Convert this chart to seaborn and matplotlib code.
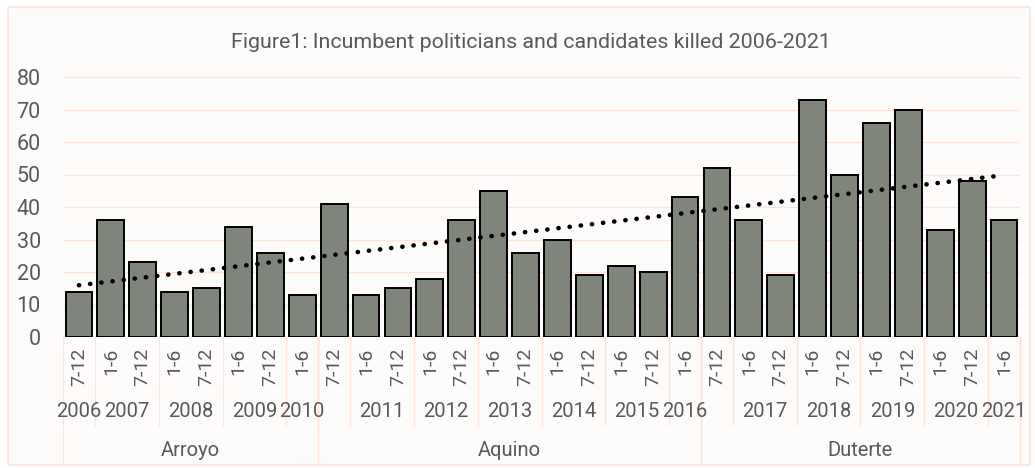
import numpy as np
import pandas as pd
import matplotlib
matplotlib.use("Agg")
import matplotlib.pyplot as plt
import matplotlib.transforms as mtransforms
from matplotlib.patches import Rectangle
import seaborn as sns

# ---- data ----
halves = ["7-12", "1-6", "7-12", "1-6", "7-12", "1-6", "7-12", "1-6",
          "7-12", "1-6", "7-12", "1-6", "7-12", "1-6", "7-12", "1-6", "7-12", "1-6", "7-12", "1-6",
          "7-12", "1-6", "7-12", "1-6", "7-12", "1-6", "7-12", "1-6", "7-12", "1-6"]
years = ["2006", "2007", "2007", "2008", "2008", "2009", "2009", "2010",
         "", "2011", "2011", "2012", "2012", "2013", "2013", "2014", "2014", "2015", "2015", "2016",
         "", "2017", "2017", "2018", "2018", "2019", "2019", "2020", "2020", "2021"]
presidents = ["Arroyo"] * 8 + ["Aquino"] * 12 + ["Duterte"] * 10
killed = [14, 36, 23, 14, 15, 34, 26, 13,
          41, 13, 15, 18, 36, 45, 26, 30, 19, 22, 20, 43,
          52, 36, 19, 73, 50, 66, 70, 33, 48, 36]
title = "Figure1: Incumbent politicians and candidates killed 2006-2021"

df = pd.DataFrame({"idx": np.arange(len(killed)), "half": halves, "year": years,
                   "president": presidents, "killed": killed})

sns.set_theme(style="white")
plt.rcParams["font.family"] = ["Roboto", "DejaVu Sans"]

TXT = "#595959"
GRID = "#fce4db"

fig = plt.figure(figsize=(10.35, 4.68), dpi=100)
fig.patch.set_facecolor("white")
bg = Rectangle((8 / 1035, 1 - 465 / 468), 1022 / 1035, 458 / 468,
               transform=fig.transFigure, facecolor="#fdfcfb",
               edgecolor=GRID, linewidth=1.2, zorder=-10)
fig.patches.append(bg)

ax = fig.add_axes([63 / 1035, 1 - 337 / 468, (1020 - 63) / 1035, 260 / 468])
ax.set_facecolor("none")
ax.set_zorder(2)

sns.barplot(data=df, x="idx", y="killed", color="#7f857b", edgecolor="black",
            linewidth=1.4, width=0.84, saturation=1, ax=ax, zorder=3)

# linear trend line
coef = np.polyfit(df["idx"], df["killed"], 1)
xt = np.array([0, len(killed) - 1])
ax.plot(xt, np.polyval(coef, xt), color="black", linewidth=3.3,
        linestyle=(0, (0.05, 2.4)), dash_capstyle="round", zorder=4)

ax.set_ylim(0, 80)
ax.set_xlim(-0.5, len(killed) - 0.5)
ax.set_yticks(np.arange(0, 81, 10))
ax.yaxis.grid(True, color=GRID, linewidth=1)
ax.set_axisbelow(True)
ax.tick_params(axis="y", length=0, pad=16, labelsize=15.5, labelcolor=TXT)
ax.set_xticks([])
ax.set_xlabel("")
ax.set_ylabel("")
for s in ax.spines.values():
    s.set_visible(False)
ax.axhline(0, color=GRID, linewidth=1, zorder=2)

tr = mtransforms.blended_transform_factory(ax.transData, ax.transAxes)

# half-year labels
for i, h in enumerate(halves):
    ax.text(i, -0.042, h, rotation=90, ha="center", va="top", fontsize=14,
            color=TXT, transform=tr, clip_on=False)

def runs(labels, keys=None):
    out = []
    start = 0
    for i in range(1, len(labels) + 1):
        if i == len(labels) or labels[i] != labels[start] or (keys is not None and keys[i] != keys[start]):
            out.append((start, i - 1, labels[start]))
            start = i
    return out

for a, b, lab in runs(years, presidents):
    if lab:
        ax.text((a + b) / 2, -0.288, lab, ha="center", va="center", fontsize=14.5,
                color=TXT, transform=tr, clip_on=False)
    ax.plot([b + 0.5, b + 0.5], [0, -0.338], color=GRID, linewidth=1,
            transform=tr, clip_on=False)

for a, b, lab in runs(presidents):
    ax.text((a + b) / 2, -0.435, lab, ha="center", va="center", fontsize=14.5,
            color=TXT, transform=tr, clip_on=False)
    for xx in ([a - 0.5, b + 0.5] if a == 0 else [b + 0.5]):
        ax.plot([xx, xx], [0, -0.485], color=GRID, linewidth=1,
                transform=tr, clip_on=False)

fig.text(531 / 1035, 1 - 42 / 468, title, ha="center", va="center",
         fontsize=15.4, color=TXT)

fig.savefig("out.png", dpi=100)
